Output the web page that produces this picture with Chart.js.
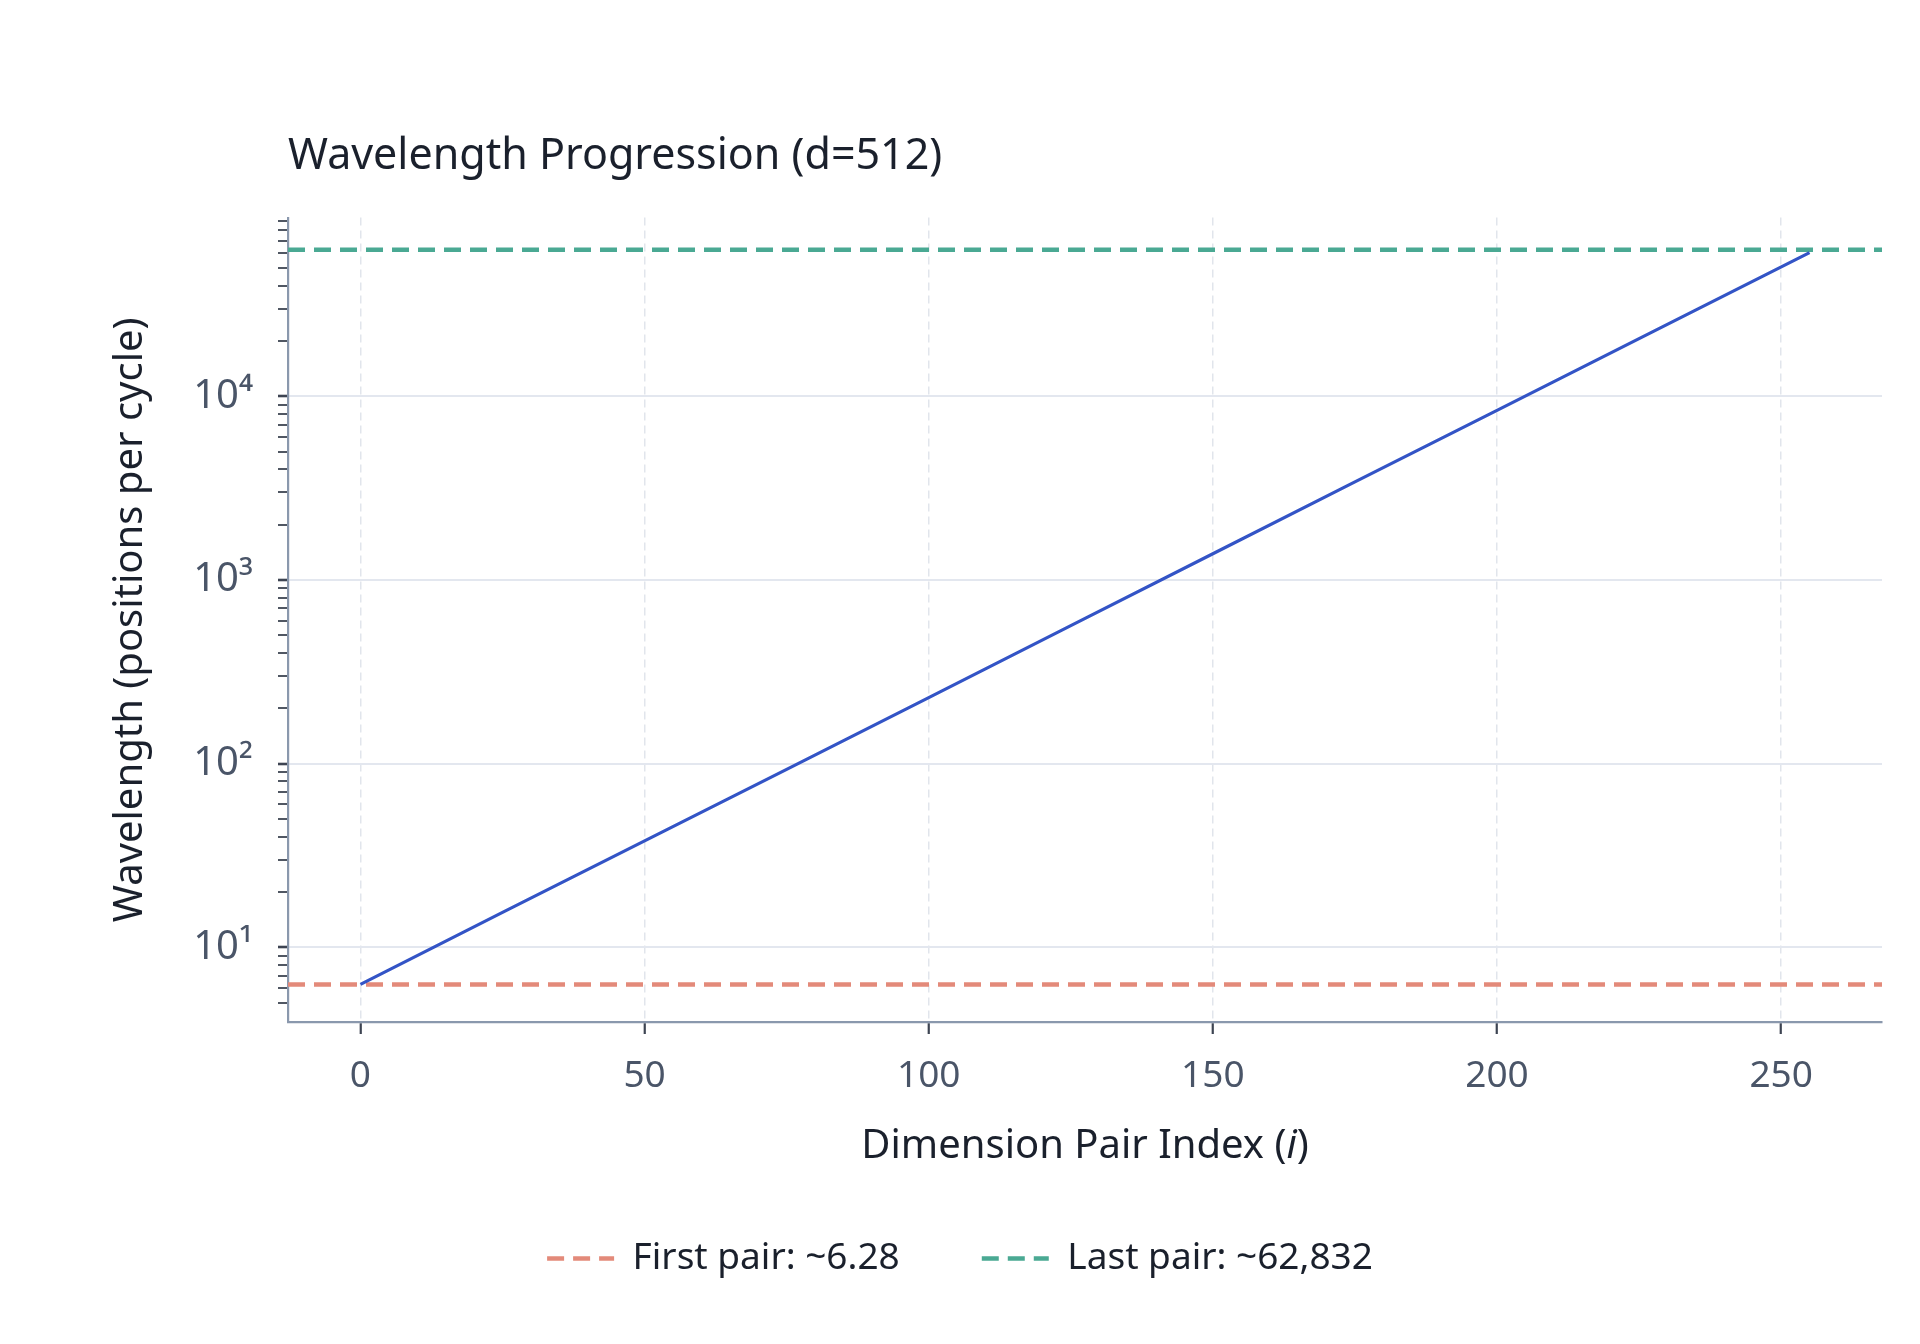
<!DOCTYPE html>
<html>
<head>
<meta charset="utf-8">
<script src="https://cdn.jsdelivr.net/npm/chart.js@4/dist/chart.umd.min.js"></script>
<style>
  html, body { margin: 0; padding: 0; background: #ffffff; }
  #wrap { width: 1920px; height: 1344px; }
</style>
</head>
<body>
<div id="wrap"><canvas id="c" width="1920" height="1344"></canvas></div>
<script>
// ---- data ----
const pairIndex  = [0, 25, 50, 75, 100, 125, 150, 175, 200, 225, 255];
const wavelength = [6.28, 15.5, 38, 93, 229, 564, 1390, 3420, 8380, 20600, 60600];
const firstPairValue = 6.28;
const lastPairValue = 62832;
const xTickValues = [0, 50, 100, 150, 200, 250];
const yMajorExponents = [1, 2, 3, 4];
const chartTitle = 'Wavelength Progression (d=512)';
const yAxisTitle = 'Wavelength (positions per cycle)';
const xAxisTitleParts = ['Dimension Pair Index (', 'i', ')'];
const legendFirst = 'First pair: ~6.28';
const legendLast = 'Last pair: ~62,832';
const xAxisMin = -12.75, xAxisMax = 267.75;
const yAxisMin = 3.92, yAxisMax = 94000;

const FONT = '"Noto Sans", "DejaVu Sans", sans-serif';
const sup = {'0':'⁰','1':'¹','2':'²','3':'³','4':'⁴','5':'⁵'};

function isNiceLog(v) {
  if (v <= 0) return false;
  const p = Math.pow(10, Math.floor(Math.log10(v) + 1e-9));
  const s = v / p;
  return Math.abs(s - Math.round(s)) < 1e-6;
}
function isMajorLog(v) {
  const e = Math.log10(v);
  return Math.abs(e - Math.round(e)) < 1e-9 && yMajorExponents.includes(Math.round(e));
}

const xTitlePlugin = {
  id: 'xTitle',
  afterDraw(chart) {
    const {ctx, chartArea} = chart;
    const cx = (chartArea.left + chartArea.right) / 2;
    const y = chartArea.bottom + 125;
    const styles = ['normal', 'italic', 'normal'];
    ctx.save();
    ctx.textBaseline = 'middle';
    ctx.textAlign = 'left';
    ctx.fillStyle = '#1a202c';
    let total = 0;
    const widths = xAxisTitleParts.map((t, i) => {
      ctx.font = styles[i] + ' 40px ' + FONT;
      const w = ctx.measureText(t).width;
      total += w;
      return w;
    });
    let x = cx - total / 2;
    xAxisTitleParts.forEach((t, i) => {
      ctx.font = styles[i] + ' 40px ' + FONT;
      ctx.fillText(t, x, y);
      x += widths[i];
    });
    ctx.restore();
  }
};

const mainData = pairIndex.map((x, i) => ({x: x, y: wavelength[i]}));
const firstLine = [{x: xAxisMin, y: firstPairValue}, {x: xAxisMax, y: firstPairValue}];
const lastLine = [{x: xAxisMin, y: lastPairValue}, {x: xAxisMax, y: lastPairValue}];

new Chart(document.getElementById('c'), {
  type: 'line',
  data: {
    datasets: [
      {
        label: 'Wavelength',
        data: mainData,
        borderColor: '#3354c6',
        borderWidth: 3.2,
        pointRadius: 0,
        tension: 0,
        fill: false,
        order: 1
      },
      {
        label: legendFirst,
        data: firstLine,
        borderColor: '#e38a7a',
        borderWidth: 4.5,
        borderDash: [17, 9],
        pointRadius: 0,
        pointStyle: 'line',
        fill: false,
        order: 2
      },
      {
        label: legendLast,
        data: lastLine,
        borderColor: '#4aa993',
        borderWidth: 4.5,
        borderDash: [17, 9],
        pointRadius: 0,
        pointStyle: 'line',
        fill: false,
        order: 2
      }
    ]
  },
  options: {
    responsive: false,
    animation: false,
    devicePixelRatio: 1,
    layout: { padding: { left: 38, right: 38, top: 131, bottom: 57 } },
    plugins: {
      title: {
        display: true,
        text: chartTitle,
        align: 'start',
        fullSize: false,
        color: '#1a202c',
        font: { family: FONT, size: 43, weight: 'normal' },
        padding: { top: 0, bottom: 35 }
      },
      legend: {
        position: 'bottom',
        labels: {
          filter: (item) => item.text !== 'Wavelength',
          generateLabels: (chart) => {
            const items = Chart.defaults.plugins.legend.labels.generateLabels(chart);
            items.forEach(it => {
              const ds = chart.data.datasets[it.datasetIndex];
              it.lineDash = ds.borderDash || [];
              it.strokeStyle = ds.borderColor;
              it.lineWidth = ds.borderWidth;
              it.pointStyle = 'line';
            });
            return items;
          },
          usePointStyle: true,
          pointStyleWidth: 67,
          padding: 82,
          color: '#1a202c',
          font: { family: FONT, size: 37 }
        }
      },
      tooltip: { enabled: false }
    },
    scales: {
      x: {
        type: 'linear',
        min: xAxisMin,
        max: xAxisMax,
        afterBuildTicks: (axis) => { axis.ticks = xTickValues.map(v => ({value: v})); },
        afterFit: (scale) => { scale.height = 136; },
        ticks: {
          color: '#4a5568',
          font: { family: FONT, size: 37 },
          padding: 20,
          autoSkip: false,
          maxRotation: 0
        },
        grid: {
          color: '#e1e5ec',
          lineWidth: 1.5,
          tickColor: '#3d4452',
          tickLength: 12,
          tickWidth: 2.2
        },
        border: { display: true, color: '#8a98ad', width: 2.2, dash: [8, 5] }
      },
      y: {
        type: 'logarithmic',
        min: yAxisMin,
        max: yAxisMax,
        afterBuildTicks: (axis) => { axis.ticks = axis.ticks.filter(t => isNiceLog(t.value)); },
        afterFit: (scale) => { scale.width = 250; },
        ticks: {
          color: '#4a5568',
          font: { family: FONT, size: 40 },
          padding: 25,
          autoSkip: false,
          callback: (value) => {
            if (isMajorLog(value)) {
              const e = Math.round(Math.log10(value));
              return '10' + sup[String(e)];
            }
            return '';
          }
        },
        grid: {
          color: (ctx) => (ctx.tick && isMajorLog(ctx.tick.value)) ? '#e3e7ef' : 'rgba(0,0,0,0)',
          lineWidth: 2,
          tickColor: '#3d4452',
          tickLength: 10,
          tickWidth: (ctx) => (ctx.tick && isMajorLog(ctx.tick.value)) ? 2.6 : 1.8
        },
        border: { display: true, color: '#8a98ad', width: 2.2 },
        title: {
          display: true,
          text: yAxisTitle,
          color: '#1a202c',
          font: { family: FONT, size: 40 },
          padding: { top: 69, bottom: 0 }
        }
      }
    }
  },
  plugins: [xTitlePlugin]
});
</script>
</body>
</html>
